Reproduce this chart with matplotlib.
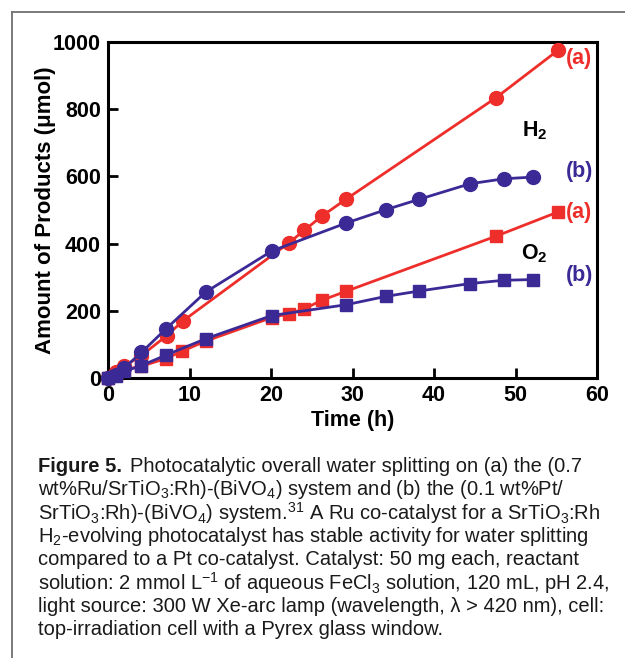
import matplotlib
matplotlib.use("Agg")
import matplotlib.pyplot as plt
from matplotlib.lines import Line2D

plt.rcParams['font.family'] = ['Liberation Sans', 'DejaVu Sans']
plt.rcParams['mathtext.default'] = 'regular'

# H2 evolution, (a) Ru and (b) Pt
h2_a_t = [0, 1, 2, 4, 7.2, 9.2, 22.2, 24.1, 26.2, 29.2, 47.6, 55.2]
h2_a_v = [0, 18, 36, 65, 126, 170, 402, 440, 481, 532, 834, 975]
h2_b_t = [0, 1, 2, 4.1, 7.1, 12.0, 20.1, 29.2, 34.1, 38.2, 44.4, 48.6, 52.2]
h2_b_v = [0, 10, 30, 76, 146, 256, 378, 461, 501, 532, 578, 593, 598]

# O2 evolution
o2_a_t = [0, 1, 2, 4.1, 7.1, 9.1, 12.0, 20.1, 22.2, 24.1, 26.2, 29.2, 47.6, 55.2]
o2_a_v = [0, 8, 25, 35, 58, 80, 110, 180, 191, 206, 231, 258, 422, 494]
o2_b_t = [0, 1, 2, 4.0, 7.1, 12.0, 20.1, 29.2, 34.1, 38.2, 44.4, 48.6, 52.2]
o2_b_v = [0, 5, 20, 36, 68, 117, 186, 218, 243, 259, 281, 291, 293]

red = '#EE2E2A'
blue = '#3B2A96'

fig = plt.figure(figsize=(6.25, 6.58), dpi=100)
ax = fig.add_axes([0.1728, 0.4255, 0.7824, 0.5107])

ax.plot(h2_a_t, h2_a_v, '-o', color=red, lw=2, ms=10, clip_on=False, zorder=3)
ax.plot(o2_a_t, o2_a_v, '-s', color=red, lw=2, ms=9, clip_on=False, zorder=3)
ax.plot(h2_b_t, h2_b_v, '-o', color=blue, lw=2, ms=10, clip_on=False, zorder=4)
ax.plot(o2_b_t, o2_b_v, '-s', color=blue, lw=2, ms=9, clip_on=False, zorder=4)

ax.set_xlim(0, 60)
ax.set_ylim(0, 1000)
ax.set_xticks(range(0, 61, 10))
ax.set_yticks(range(0, 1001, 200))
ax.tick_params(direction='in', length=7, width=2, labelsize=15.5, pad=5)
for lab in ax.get_xticklabels() + ax.get_yticklabels():
    lab.set_fontweight('bold')
for sp in ax.spines.values():
    sp.set_linewidth(2.2)

ax.set_xlabel('Time (h)', fontsize=15.5, fontweight='bold', labelpad=3)
ax.set_ylabel('Amount of Products (\u03bcmol)', fontsize=16, fontweight='bold', labelpad=-2)

lab_kw = dict(fontsize=15.5, fontweight='bold', ha='center', va='center')
ax.text(57.8, 952, '(a)', color=red, **lab_kw)
ax.text(52.3, 735, 'H$_2$', color='black', **lab_kw)
ax.text(57.8, 615, '(b)', color=blue, **lab_kw)
ax.text(57.8, 492, '(a)', color=red, **lab_kw)
ax.text(52.3, 370, 'O$_2$', color='black', **lab_kw)
ax.text(57.8, 305, '(b)', color=blue, **lab_kw)

# frame around the figure
fig.add_artist(Line2D([12/625, 1], [1 - 12/658, 1 - 12/658], color='#707070', lw=1.3))
fig.add_artist(Line2D([12/625, 12/625], [0, 1 - 12/658], color='#707070', lw=1.3))

# caption
cap_lines = [
    "Photocatalytic overall water splitting on (a) the (0.7",
    "wt%Ru/SrTiO$_3$:Rh)-(BiVO$_4$) system and (b) the (0.1 wt%Pt/",
    "SrTiO$_3$:Rh)-(BiVO$_4$) system.$^{31}$ A Ru co-catalyst for a SrTiO$_3$:Rh",
    "H$_2$-evolving photocatalyst has stable activity for water splitting",
    "compared to a Pt co-catalyst. Catalyst: 50 mg each, reactant",
    "solution: 2 mmol L$^{-1}$ of aqueous FeCl$_3$ solution, 120 mL, pH 2.4,",
    "light source: 300 W Xe-arc lamp (wavelength, \u03bb > 420 nm), cell:",
    "top-irradiation cell with a Pyrex glass window.",
]
x0 = 38 / 625
cap_size = 14.5
y_px = 466
renderer = fig.canvas.get_renderer()
for i, line in enumerate(cap_lines):
    y = 1 - y_px / 658
    if i == 0:
        t = fig.text(x0, y, 'Figure 5.', fontsize=cap_size, fontweight='bold', va='center', color='#1a1a1a')
        bb = t.get_window_extent(renderer)
        fig.text(bb.x1 / fig.bbox.width + 8 / 625, y, line, fontsize=cap_size, va='center', color='#1a1a1a')
    else:
        fig.text(x0, y, line, fontsize=cap_size, va='center', color='#1a1a1a')
    y_px += 23.4

fig.savefig('out.png', dpi=100)
